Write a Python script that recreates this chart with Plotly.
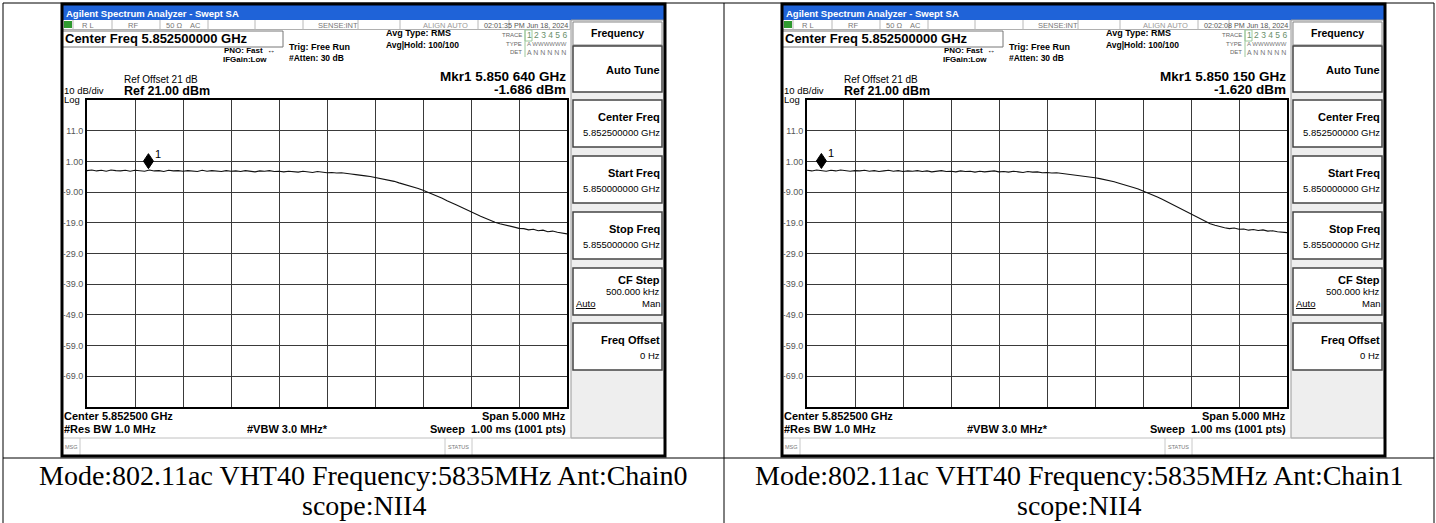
import numpy as np
import plotly.graph_objects as go

W, H = 1436, 523

# ---------------- data ----------------
START_GHZ = 5.850
STOP_GHZ = 5.855
REF_DBM = 21.0
DB_PER_DIV = 10.0
N_DIV = 10

# trace readings (dBm), 101 readings across the 5 MHz span
CHAIN0_DBM = [
    -2.0, -1.8, -2.1, -1.9, -2.2, -1.8, -2.0, -2.1, -1.9, -2.2, -1.9,
    -2.0, -2.2, -1.8, -2.1, -2.0, -2.3, -1.9, -2.1, -2.0, -2.2,
    -2.0, -2.1, -2.3, -1.9, -2.2, -2.0, -2.1, -2.3, -2.0, -2.2,
    -2.1, -2.3, -2.0, -2.2, -2.4, -2.1, -2.2, -2.0, -2.3, -2.2,
    -2.4, -2.2, -2.3, -2.5, -2.2, -2.4, -2.6, -2.3, -2.5, -2.7,
    -2.6, -2.8, -2.7, -3.0, -3.1, -3.3, -3.4, -3.7, -3.9, -4.2,
    -4.4, -4.8, -5.0, -5.5, -6.0, -6.4, -6.9, -7.4, -7.8, -8.4,
    -9.0, -9.7, -10.3, -11.0, -11.8, -12.4, -13.2, -13.9, -14.7, -15.5,
    -16.2, -16.9, -17.5, -18.2, -18.8, -19.3, -19.6, -20.1, -20.4, -20.8,
    -20.9, -21.3, -21.1, -21.6, -21.4, -21.9, -21.7, -22.1, -22.3, -22.6,
]
CHAIN1_DBM = [
    -1.9, -2.1, -1.8, -2.0, -2.2, -1.9, -2.1, -1.8, -2.0, -2.2, -2.0,
    -2.1, -1.9, -2.2, -2.0, -2.3, -2.1, -1.9, -2.2, -2.0, -2.3,
    -2.1, -2.2, -2.0, -2.3, -2.1, -2.4, -2.2, -2.0, -2.3, -2.2,
    -2.4, -2.1, -2.3, -2.2, -2.5, -2.2, -2.4, -2.3, -2.1, -2.4,
    -2.3, -2.5, -2.2, -2.4, -2.6, -2.3, -2.5, -2.4, -2.7, -2.6,
    -2.8, -2.7, -2.9, -3.0, -3.2, -3.3, -3.6, -3.8, -4.0, -4.3,
    -4.6, -4.9, -5.3, -5.6, -6.1, -6.5, -7.0, -7.5, -8.0, -8.6,
    -9.2, -9.9, -10.6, -11.3, -12.1, -12.8, -13.6, -14.4, -15.2, -16.0,
    -16.9, -17.7, -18.5, -19.3, -19.8, -20.3, -20.6, -20.9, -20.7, -21.1,
    -21.0, -21.4, -21.2, -21.5, -21.3, -21.7, -21.6, -21.9, -22.0, -22.2,
]
TRACES = [CHAIN0_DBM, CHAIN1_DBM]
CHAINS = ["Chain0", "Chain1"]
MARKER_GHZ = [5.85064, 5.85015]
MARKER_DBM = [-1.686, -1.620]
MARKER_TEXT = ["Mkr1 5.850 640 GHz", "Mkr1 5.850 150 GHz"]
MARKER_VALUE_TEXT = ["-1.686 dBm", "-1.620 dBm"]
TIMESTAMPS = ["02:01:35 PM Jun 18, 2024", "02:02:08 PM Jun 18, 2024"]
Y_TICK_VALUES = [11, 1, -9, -19, -29, -39, -49, -59, -69]
Y_TICK_LABELS = ["11.0", "1.00", "-9.00", "-19.0", "-29.0", "-39.0", "-49.0", "-59.0", "-69.0"]
SOFTKEY_TITLES = ["Center Freq", "Start Freq", "Stop Freq", "CF Step", "Freq Offset"]
SOFTKEY_VALUES = ["5.852500000 GHz", "5.850000000 GHz", "5.855000000 GHz", "500.000 kHz", "0 Hz"]
CAPTION_LINE1 = "Mode:802.11ac VHT40 Frequency:5835MHz Ant:{}"
CAPTION_LINE2 = "scope:NII4"

SANS = "Liberation Sans, Arial, sans-serif"
SERIF = "Liberation Serif, Times New Roman, serif"

shapes = []
annots = []


def px(x):
    return x / W


def py(y):
    return 1 - y / H


def rect(x0, y0, x1, y1, fill=None, line=None, lw=1):
    shapes.append(dict(
        type="rect", xref="paper", yref="paper",
        x0=px(x0), x1=px(x1), y0=py(y1), y1=py(y0),
        fillcolor=fill if fill else "rgba(0,0,0,0)",
        line=dict(color=line if line else "rgba(0,0,0,0)", width=lw if line else 0),
        layer="below"))


def seg(x0, y0, x1, y1, color="#000", width=1):
    shapes.append(dict(
        type="line", xref="paper", yref="paper",
        x0=px(x0), x1=px(x1), y0=py(y0), y1=py(y1),
        line=dict(color=color, width=width), layer="below"))


def text(x, y, s, size, bold=False, anchor="left", color="#000", family=SANS):
    annots.append(dict(
        xref="paper", yref="paper", x=px(x), y=py(y), text=s, showarrow=False,
        xanchor=anchor, yanchor="middle", borderpad=0,
        font=dict(family=family, size=size, color=color,
                  weight="bold" if bold else "normal")))


# ---------------- table ----------------
TL, TR, TM, TT, TH = 3, 1434, 724, 3, 458
seg(TL, TT, TR, TT)
seg(TL, TT, TL, H + 5)
seg(TM, TT, TM, H + 5)
seg(TR, TT, TR, H + 5)
seg(TL, TH, TR, TH)


def softkey_texts(dx):
    X = lambda v: v + dx
    tops = [100, 156, 212, 268, 323]
    for i, top in enumerate(tops):
        t = SOFTKEY_TITLES[i]
        v = SOFTKEY_VALUES[i]
        if t == "CF Step":
            text(X(661), top + 12, t, 11, True, anchor="right")
            text(X(661), top + 23.5, v, 9.5, anchor="right")
            text(X(575), top + 35, "<u>Auto</u>", 9.5)
            text(X(661), top + 35, "Man", 9.5, anchor="right")
        else:
            text(X(661), top + 17, t, 11, True, anchor="right")
            text(X(661), top + 32, v, 9.5, anchor="right")


def screenshot(dx, k):
    X = lambda v: v + dx
    rect(X(62), 4, X(665), 456, fill="#ffffff")
    # title bar
    rect(X(63), 5, X(664), 20, fill="#1f63d8")
    text(X(65), 13.5, "Agilent Spectrum Analyzer - Swept SA", 9.5, True, color="#ffffff")
    # status row
    seg(X(63), 29.5, X(570), 29.5, "#b0b0b0", 1)
    for sx in [73, 112, 160, 208, 255, 303, 358, 400, 478, 509, 570]:
        seg(X(sx), 20, X(sx), 29.5, "#b8b8b8", 1)
    rect(X(64), 21, X(72), 28, fill="#2f9a2f")
    text(X(81), 25, "R L", 7.5, color="#777")
    text(X(127), 25, "RF", 7.5, color="#777")
    text(X(165), 25, "50 Ω", 7.5, color="#777")
    text(X(189), 25, "AC", 7.5, color="#777")
    text(X(317), 25, "SENSE:INT", 7.5, color="#777")
    text(X(422), 25, "ALIGN AUTO", 7.5, color="#999")
    text(X(483), 25, TIMESTAMPS[k], 7.2, color="#555")
    # center frequency box and settings
    rect(X(62), 31, X(283), 47, fill="#ffffff", line="#777", lw=1)
    text(X(64), 38.5, "Center Freq 5.852500000 GHz", 13, True)
    text(X(223), 50.5, "PNO: Fast", 8, True)
    text(X(266), 50, "↔", 8, True)
    text(X(222), 59.5, "IFGain:Low", 8, True)
    text(X(288), 47, "Trig: Free Run", 9, True)
    text(X(288), 58, "#Atten: 30 dB", 8.5, True)
    text(X(385), 32.5, "Avg Type: RMS", 9, True)
    text(X(385), 44.5, "Avg|Hold: 100/100", 8.5, True)
    # trace block
    seg(X(525), 30, X(525), 57, "#9cc89c", 1)
    rect(X(525), 30, X(532), 41, line="#9cc89c", lw=1)
    text(X(523), 35.5, "TRACE", 6, anchor="right", color="#666")
    text(X(526), 35.5, "1 2 3 4 5 6", 8.5, color="#6a8f6a")
    text(X(523), 44, "TYPE", 6, anchor="right", color="#666")
    text(X(526), 44, "A WWWWWW", 6, color="#777")
    text(X(523), 52, "DET", 6, anchor="right", color="#666")
    text(X(526), 52, "A N N N N N", 7, color="#777")
    # marker readout
    text(X(567), 76, MARKER_TEXT[k], 13.5, True, anchor="right")
    text(X(567), 89, MARKER_VALUE_TEXT[k], 13.5, True, anchor="right")
    # reference texts
    text(X(123), 80, "Ref Offset 21 dB", 10)
    text(X(123), 91, "Ref 21.00 dBm", 12.5, True)
    text(X(63), 90.5, "10 dB/div", 9.5)
    text(X(63), 99.5, "Log", 9.5)
    # softkey panel
    rect(X(571), 20, X(664), 438, fill="#eeeeee", line="#999", lw=1)
    rect(X(573), 22, X(662), 45, fill="#ffffff", line="#888", lw=1)
    text(X(617), 33.5, "Frequency", 10.5, True, anchor="center")
    rect(X(573), 46, X(662), 92, fill="#ffffff", line="#444", lw=1.5)
    text(X(661), 69.5, "Auto Tune", 11, True, anchor="right")
    for top in [100, 156, 212, 268, 323]:
        rect(X(573), top, X(662), top + 47, fill="#ffffff", line="#444", lw=1.5)
    softkey_texts(dx)
    # bottom info
    text(X(63), 416, "Center 5.852500 GHz", 11, True)
    text(X(63), 428.5, "#Res BW 1.0 MHz", 11, True)
    text(X(246), 428.5, "#VBW 3.0 MHz*", 11, True)
    text(X(567), 416, "Span 5.000 MHz", 11, True, anchor="right")
    text(X(567), 428.5, "Sweep  1.00 ms (1001 pts)", 11, True, anchor="right")
    # message row
    seg(X(62), 438, X(664), 438, "#c0c0c0", 1)
    seg(X(80), 438, X(80), 456, "#c8c8c8", 1)
    seg(X(445), 438, X(445), 456, "#c8c8c8", 1)
    seg(X(472), 438, X(472), 456, "#c8c8c8", 1)
    text(X(64), 446.5, "MSG", 5.5, color="#777")
    text(X(458.5), 446.5, "STATUS", 5.5, anchor="center", color="#777")
    # outer border
    rect(X(62), 4, X(665), 456, line="#000", lw=3)


OFFSETS = [0, 720]
for k, dx in enumerate(OFFSETS):
    screenshot(dx, k)

# captions
CAPTION_X = [363.5, 1079]
for k in range(2):
    text(CAPTION_X[k], 475, CAPTION_LINE1.format(CHAINS[k]), 28, anchor="center", family=SERIF)
    text(CAPTION_X[k], 505, CAPTION_LINE2, 28, anchor="center", family=SERIF)

# ---------------- plots ----------------
fig = go.Figure()
div_ghz = (STOP_GHZ - START_GHZ) / N_DIV
x_grid = [START_GHZ + div_ghz * i for i in range(1, N_DIV)]
y_bottom = REF_DBM - DB_PER_DIV * N_DIV

for k, dx in enumerate(OFFSETS):
    vals = TRACES[k]
    freq = np.linspace(START_GHZ, STOP_GHZ, len(vals))
    xa = "x" if k == 0 else "x2"
    ya = "y" if k == 0 else "y2"
    fig.add_trace(go.Scatter(x=freq, y=vals, mode="lines", xaxis=xa, yaxis=ya,
                             line=dict(color="#111", width=1.1), showlegend=False,
                             hoverinfo="skip"))
    # marker diamond sitting on the marker point
    shapes.append(dict(type="path", xref=xa, yref=ya,
                       xsizemode="pixel", ysizemode="pixel",
                       xanchor=MARKER_GHZ[k], yanchor=MARKER_DBM[k],
                       path="M0,1 L5,8.5 L0,16 L-5,8.5 Z",
                       fillcolor="#000", line=dict(color="#000", width=1), layer="above"))
    annots.append(dict(xref=xa, yref=ya, x=MARKER_GHZ[k], y=MARKER_DBM[k], text="1",
                       showarrow=False, xanchor="left", yanchor="middle",
                       xshift=5, yshift=16,
                       font=dict(family=SANS, size=11, color="#000")))

    axis_common = dict(showline=True, mirror=True, linecolor="#000", linewidth=2,
                       showgrid=True, gridcolor="#3a3a3a", gridwidth=1, zeroline=False,
                       ticks="", fixedrange=True)
    xdom = [px(87 + dx), px(567 + dx)]
    ydom = [py(407), py(100)]
    xkey = "xaxis" if k == 0 else "xaxis2"
    ykey = "yaxis" if k == 0 else "yaxis2"
    fig.update_layout(**{
        xkey: dict(domain=xdom, range=[START_GHZ, STOP_GHZ], tickvals=x_grid,
                   showticklabels=False, anchor=ya, **axis_common),
        ykey: dict(domain=ydom, range=[y_bottom, REF_DBM], tickvals=Y_TICK_VALUES,
                   ticktext=Y_TICK_LABELS, anchor=xa,
                   tickfont=dict(family=SANS, size=9, color="#555"), **axis_common),
    })

fig.update_layout(
    width=W, height=H, margin=dict(l=0, r=0, t=0, b=0),
    paper_bgcolor="#ffffff", plot_bgcolor="rgba(0,0,0,0)",
    shapes=shapes, annotations=annots, showlegend=False,
)

fig.write_html("out.html", config={"displayModeBar": False},
               post_script="document.body.style.margin='0px';")
